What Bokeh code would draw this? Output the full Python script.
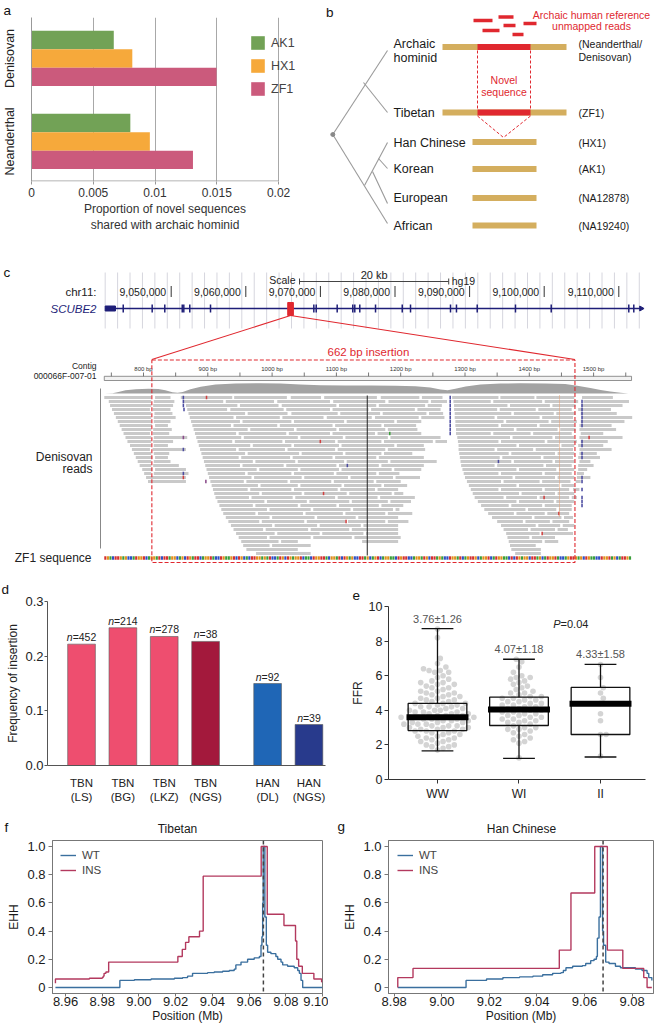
import numpy as np
from bokeh.plotting import figure
from bokeh.models import Range1d, Legend, LegendItem, Span
from bokeh.layouts import column, row
from bokeh.embed import file_html
from bokeh.resources import INLINE
from bokeh.core.properties import value

FONT = "Liberation Sans"

# ------------------------------------------------------------------ data
# panel a
a_groups = ["Denisovan", "Neanderthal"]
a_group_pos = [1, 0]
a_series = ["AK1", "HX1", "ZF1"]
a_AK1 = [0.00666, 0.00800]
a_HX1 = [0.00816, 0.00958]
a_ZF1 = [0.01498, 0.01307]
a_colors = ["#72A256", "#F6A93B", "#CB5A7C"]
a_xticks = [0, 0.005, 0.01, 0.015, 0.02]
a_xtick_labels = ["0", "0.005", "0.01", "0.015", "0.02"]

# panel b (schematic, drawn in its own pixel-like coordinates)
b_lineages = ["Archaic\nhominid", "Tibetan", "Han Chinese", "Korean", "European", "African"]
b_samples = ["(Neanderthal/\nDenisovan)", "(ZF1)", "(HX1)", "(AK1)", "(NA12878)", "(NA19240)"]
b_row_y = [46.5, 112, 141.5, 168.5, 197.5, 225]
b_label_y = [50, 112, 142, 168, 197, 225]
b_long_bar = [True, True, False, False, False, False]
b_tree = [(332.3, 134, 387, 50), (363, 82, 387, 112), (332.3, 134, 387, 223),
          (364, 185, 387, 142), (372, 171, 387, 203), (378, 158, 387, 168)]
b_unmapped = [(473, 492, 20), (498, 513, 16.5), (482, 499, 30), (503, 515, 25), (523, 536, 23), (512, 523, 34)]

# panel c
c_chr_ticks = [9050000, 9060000, 9070000, 9080000, 9090000, 9100000, 9110000]
c_gene = (9041150, 9113000)
c_utr = (9041150, 9042530)
c_exons = [9043570, 9047450, 9049140, 9051480, 9051690, 9052490, 9055270, 9069120, 9069440,
           9072250, 9074340, 9074610, 9075280, 9077390, 9080970, 9082080, 9087440, 9088240,
           9091020, 9096150, 9100940, 9111340, 9112010]
c_ins_chr = 9066000
c_scale_start = 9067200
c_scale_len = 20000
c_ins_bp = (813, 1471)
c_ins_len = 662
c_bp_ticks = [800, 900, 1000, 1100, 1200, 1300, 1400, 1500]
c_contig = (739, 1559)
c_cov_bp = [740, 752, 761, 772, 788, 808, 823, 834, 845, 853, 861, 873, 889, 912, 943, 982, 1013,
            1044, 1075, 1114, 1153, 1192, 1223, 1246, 1262, 1273, 1285, 1301, 1324, 1355, 1386,
            1425, 1456, 1477, 1495, 1511, 1526, 1542, 1554]
c_cov_depth = [0, 1, 6, 12, 16, 18, 17, 12, 5, 3, 6, 16, 25, 33, 37, 38, 37, 33, 31, 30, 30, 29,
               27, 22, 15, 12, 18, 26, 33, 37, 38, 37, 35, 28, 20, 13, 7, 3, 0]
c_reads = [
    [[739,812],[818,842],[858,938],[941,1023],[1029,1076],[1081,1163],[1169,1229],[1233,1265],[1280,1352],[1355,1408],[1411,1470],[1482,1530]],
    [[746,812],[816,848],[862,924],[928,1003],[1008,1090],[1095,1176],[1181,1243],[1247,1272],[1282,1340],[1344,1420],[1424,1476],[1484,1555]],
    [[748,812],[815,846],[866,946],[950,1010],[1015,1100],[1104,1162],[1166,1238],[1242,1264],[1283,1366],[1370,1432],[1436,1472],[1481,1545]],
    [[751,810],[814,842],[868,930],[935,1018],[1022,1090],[1094,1150],[1154,1222],[1226,1262],[1283,1350],[1354,1410],[1414,1466],[1476,1527]],
    [[754,812],[817,845],[870,958],[962,1024],[1030,1102],[1106,1168],[1172,1240],[1244,1266],[1284,1372],[1376,1438],[1442,1472],[1480,1536]],
    [[757,812],[816,850],[872,940],[944,1012],[1016,1080],[1085,1155],[1160,1228],[1232,1268],[1284,1346],[1350,1416],[1420,1468],[1482,1560]],
    [[760,812],[816,842],[874,950],[954,1030],[1034,1112],[1116,1190],[1194,1232],[1285,1360],[1364,1430],[1434,1474],[1480,1548]],
    [[763,813],[818,838],[876,936],[940,1008],[1012,1094],[1098,1170],[1174,1224],[1285,1352],[1356,1412],[1416,1470],[1478,1528]],
    [[766,812],[815,844],[878,962],[966,1034],[1038,1100],[1104,1176],[1180,1226],[1286,1376],[1380,1444],[1448,1472],[1478,1535]],
    [[769,810],[814,840],[880,944],[948,1022],[1026,1090],[1094,1160],[1164,1232],[1286,1340],[1344,1402],[1406,1466],[1480,1515]],
    [[772,812],[816,868],[882,952],[956,1040],[1044,1110],[1114,1180],[1184,1262],[1288,1370],[1374,1436],[1440,1470],[1478,1545]],
    [[775,812],[815,846],[884,938],[942,1016],[1020,1098],[1102,1170],[1174,1250],[1254,1272],[1289,1352],[1356,1424],[1428,1474],[1480,1522]],
    [[779,812],[816,838],[886,966],[970,1030],[1034,1104],[1108,1190],[1194,1236],[1290,1380],[1384,1446],[1450,1470],[1476,1515]],
    [[782,810],[814,866],[888,944],[948,1020],[1024,1098],[1102,1176],[1180,1238],[1290,1346],[1350,1406],[1410,1468],[1478,1528]],
    [[785,812],[816,840],[890,958],[962,1042],[1046,1110],[1114,1170],[1174,1218],[1291,1368],[1372,1440],[1444,1470],[1478,1505]],
    [[788,814],[818,838],[892,948],[952,1028],[1032,1094],[1098,1162],[1166,1236],[1292,1354],[1358,1418],[1422,1468],[1476,1510]],
    [[791,812],[816,842],[894,970],[974,1036],[1040,1112],[1116,1180],[1184,1256],[1293,1372],[1376,1436],[1440,1470],[1478,1495]],
    [[794,812],[815,855],[896,950],[954,1018],[1022,1100],[1104,1166],[1170,1236],[1294,1346],[1350,1422],[1426,1466],[1476,1500]],
    [[798,814],[818,866],[898,976],[980,1040],[1044,1104],[1108,1186],[1190,1232],[1296,1380],[1384,1442],[1446,1470],[1476,1490]],
    [[801,812],[816,870],[900,958],[962,1030],[1034,1096],[1100,1162],[1166,1198],[1298,1352],[1356,1420],[1424,1466],[1474,1485]],
    [[804,866],[902,968],[972,1046],[1050,1118],[1122,1188],[1192,1230],[1300,1374],[1378,1440],[1444,1470],[1474,1495]],
    [[807,866],[904,956],[960,1024],[1028,1092],[1096,1158],[1162,1200],[1303,1356],[1360,1416],[1420,1464],[1472,1480]],
    [[906,978],[982,1040],[1044,1108],[1112,1170],[1174,1210],[1306,1380],[1384,1446],[1450,1470]],
    [[908,962],[966,1030],[1034,1102],[1106,1160],[1164,1196],[1309,1352],[1356,1420],[1424,1462],[1468,1478]],
    [[910,980],[984,1046],[1050,1116],[1120,1186],[1190,1204],[1312,1384],[1388,1440],[1444,1470]],
    [[912,964],[968,1032],[1036,1098],[1102,1164],[1168,1222],[1315,1360],[1364,1412],[1416,1462],[1466,1474]],
    [[915,988],[992,1054],[1058,1120],[1124,1180],[1184,1216],[1320,1380],[1384,1438],[1442,1470]],
    [[918,970],[974,1040],[1044,1100],[1104,1166],[1170,1204],[1325,1368],[1372,1420],[1424,1466]],
    [[921,992],[996,1060],[1064,1122],[1126,1188],[1192,1198],[1330,1394],[1398,1442],[1446,1466]],
    [[924,974],[978,1048],[1052,1110],[1114,1176],[1180,1218],[1336,1376],[1380,1424],[1428,1462]],
    [[928,996],[1000,1066],[1070,1130],[1134,1196],[1342,1404],[1408,1450],[1454,1468]],
    [[932,980],[984,1050],[1054,1114],[1118,1176],[1180,1212],[1350,1390],[1394,1432],[1436,1462]],
    [[936,1000],[1004,1070],[1074,1138],[1142,1196],[1356,1410],[1414,1448],[1452,1470]],
    [[940,986],[990,1056],[1060,1120],[1124,1196],[1360,1398],[1402,1440],[1444,1460]],
    [[944,1004],[1008,1074],[1078,1142],[1146,1196],[1364,1416],[1420,1468]],
    [[948,992],[996,1060],[1064,1124],[1128,1200],[1366,1400],[1404,1440]],
    [[952,1010],[1014,1040],[1140,1196],[1368,1420],[1424,1445]],
    [[955,996],[1000,1060],[1370,1410]],
    [[960,1040],[1372,1418]],
    [[975,1060],[1378,1418]],
]
c_marks = [(0, 862, "#4B4BA0"), (1, 862, "#4B4BA0"), (2, 862, "#4B4BA0"), (3, 863, "#4B4BA0"),
           (10, 862, "#8A4B8A"), (13, 862, "#4B4BA0"), (19, 862, "#4B4BA0"), (20, 862, "#D04040"),
           (0, 898, "#D04040"), (21, 897, "#8A4B8A"), (11, 1075, "#D04040"), (9, 1183, "#3A9E3A"),
           (17, 1117, "#4B4BA0"), (24, 1080, "#D04040"), (31, 1115, "#D04040"), (25, 1423, "#D04040"),
           (29, 1446, "#D04040"), (34, 1420, "#D04040"), (10, 1493, "#D04040"), (16, 1352, "#4B4BA0")]
c_purple_rows_1277 = list(range(0, 10))
c_purple_rows_1482 = [1, 2, 3, 4, 5, 6, 7, 11, 12, 14, 15, 20, 21, 23, 25, 26, 27]
c_seq = ("TGACTTGAGCCATGGTCAGGATCTTAGGCAGCTGATTCAGGTACCTGAAGTCTGCACTTGGAGATCCATGCTGAGGTCAACTGG"
         "TTACGGATCTGAGCCTTAGCAGTCAGGAACTGTTCCAGGATGCTTAGACCTGGATCAGTTGCAGGTCATGGAACTCTGAGGCTT"
         "AGCATGGTACCAGTTGAGCTGAACCTGGTAGCATTGACG")
c_base_colors = {"A": "#3A9E3A", "C": "#2D4FC4", "G": "#E0901E", "T": "#D43030"}

# panel d
d_labels = ["TBN\n(LS)", "TBN\n(BG)", "TBN\n(LKZ)", "TBN\n(NGS)", "HAN\n(DL)", "HAN\n(NGS)"]
d_pos = [0, 1, 2, 3, 4.5, 5.5]
d_freq = [0.222, 0.252, 0.236, 0.227, 0.150, 0.075]
d_n = [452, 214, 278, 38, 92, 39]
d_colors = ["#EE4E6F", "#EE4E6F", "#EE4E6F", "#A3193C", "#1F66B6", "#283A8C"]

# panel e
e_groups = ["WW", "WI", "II"]
e_pos = [1, 2, 3]
e_q1 = [2.83, 3.12, 2.60]
e_med = [3.60, 4.05, 4.38]
e_q3 = [4.40, 4.76, 5.32]
e_lo = [1.65, 1.22, 1.30]
e_hi = [8.72, 6.95, 6.65]
e_annot = ["3.76\u00b11.26", "4.07\u00b11.18", "4.33\u00b11.58"]
e_WW = [8.7, 8.2, 7.0, 6.7, 6.5, 6.4, 6.3, 6.3, 6.2, 6.2, 6.0, 5.9, 5.8, 5.7, 5.6, 5.6, 5.5, 5.5,
        5.4, 5.3, 5.3, 5.2, 5.1, 5.1, 5.0, 5.0, 4.9, 4.9, 4.8, 4.8, 4.7, 4.7, 4.6, 4.6, 4.5, 4.5,
        4.4, 4.4, 4.4, 4.3, 4.3, 4.2, 4.2, 4.2, 4.1, 4.1, 4.0, 4.0, 4.0, 3.9, 3.9, 3.9, 3.8, 3.8,
        3.8, 3.7, 3.7, 3.7, 3.6, 3.6, 3.6, 3.6, 3.5, 3.5, 3.5, 3.4, 3.4, 3.4, 3.3, 3.3, 3.3, 3.2,
        3.2, 3.2, 3.1, 3.1, 3.1, 3.0, 3.0, 3.0, 2.9, 2.9, 2.9, 2.8, 2.8, 2.8, 2.7, 2.7, 2.6, 2.6,
        2.5, 2.5, 2.4, 2.4, 2.3, 2.3, 2.2, 2.2, 2.1, 2.0, 2.0, 1.9, 1.9, 1.8, 1.7]
e_WI = [6.95, 6.8, 6.5, 6.2, 6.0, 5.9, 5.9, 5.8, 5.7, 5.6, 5.5, 5.4, 5.3, 5.2, 5.1, 5.0, 5.0, 4.9,
        4.8, 4.8, 4.7, 4.7, 4.6, 4.6, 4.5, 4.5, 4.4, 4.4, 4.3, 4.3, 4.2, 4.2, 4.1, 4.1, 4.0, 4.0,
        3.9, 3.9, 3.8, 3.8, 3.7, 3.7, 3.6, 3.6, 3.5, 3.5, 3.4, 3.4, 3.3, 3.3, 3.2, 3.1, 3.0, 3.0,
        2.9, 2.9, 2.8, 2.7, 2.6, 2.5, 2.4, 2.3, 2.2, 2.1, 1.25]
e_II = [6.65, 5.9, 5.3, 5.0, 4.7, 4.4, 3.8, 3.4, 2.6, 2.6, 1.35]

# panels f, g (EHH step curves: position Mb, EHH)
f_ins = [(8.9545,0.03),(8.9545,0.06),(8.973,0.065),(8.980,0.07),(8.9805,0.08),(8.981,0.10),(8.982,0.11),
         (8.9835,0.18),(9.0212,0.22),(9.0236,0.27),(9.0254,0.32),(9.0272,0.36),(9.033,0.40),(9.035,0.79),
         (9.0666,1.0),(9.0699,0.52),(9.079,0.44),(9.0853,0.33),(9.086,0.20),(9.087,0.15),(9.089,0.10),
         (9.0953,0.06),(9.0995,0.04),(9.1,0.04)]
f_wt = [(8.9545,0.0),(8.9896,0.05),(8.9975,0.055),(9.0066,0.06),(9.0193,0.065),(9.0238,0.07),(9.0265,0.08),
        (9.0292,0.10),(9.0374,0.105),(9.041,0.11),(9.0456,0.115),(9.0492,0.12),(9.0519,0.13),(9.0528,0.16),
        (9.0556,0.18),(9.0592,0.20),(9.0628,0.21),(9.0656,0.22),(9.0665,0.30),(9.067,0.36),(9.0674,0.60),
        (9.0677,1.0),(9.0686,0.50),(9.0694,0.30),(9.0701,0.25),(9.0719,0.24),(9.0746,0.22),(9.0756,0.20),
        (9.0774,0.18),(9.0783,0.16),(9.081,0.15),(9.0846,0.14),(9.0865,0.12),(9.0874,0.10),(9.0883,0.05),
        (9.0892,0.0),(9.1,0.0)]
g_ins = [(8.9815,0.0),(8.9815,0.07),(8.9879,0.135),(9.0494,0.265),(9.0543,0.67),(9.0643,1.0),(9.0696,0.265),
         (9.0761,0.135),(9.0849,0.07),(9.0863,0.0),(9.0883,0.0)]
g_wt = [(8.9815,0.0),(9.0102,0.05),(9.0188,0.06),(9.0257,0.07),(9.0327,0.075),(9.0383,0.08),(9.0424,0.09),
        (9.0466,0.10),(9.0501,0.105),(9.0511,0.12),(9.0522,0.14),(9.055,0.15),(9.0591,0.155),(9.0605,0.17),
        (9.0626,0.19),(9.064,0.20),(9.065,0.22),(9.0654,0.35),(9.0661,0.50),(9.0667,1.0),(9.0676,0.40),
        (9.068,0.30),(9.0689,0.18),(9.0703,0.17),(9.073,0.15),(9.0751,0.14),(9.0814,0.13),(9.0842,0.12),
        (9.0863,0.10),(9.087,0.07),(9.0883,0.05)]
ins_pos_mb = 9.0678
f_xticks = [8.96, 8.98, 9.00, 9.02, 9.04, 9.06, 9.08, 9.10]
g_xticks = [8.98, 9.00, 9.02, 9.04, 9.06, 9.08]
ehh_ticks = [0, 0.2, 0.4, 0.6, 0.8, 1.0]
ehh_labels = ["0", "0.2", "0.4", "0.6", "0.8", "1.0"]
WT_COLOR = "#3A6F9E"
INS_COLOR = "#B3395E"
RED = "#E0282F"
GOLD = "#D4AE5E"
W = 654  # whole layout width (placed at the page's top-left corner)


# ------------------------------------------------------------------ helpers
def fig(w, h, xr, yr, bl=0, br=0, bt=0, bb=0, axes=True):
    extra = {} if axes else dict(x_axis_location=None, y_axis_location=None)
    p = figure(width=w, height=h, x_range=xr, y_range=yr, min_border_left=bl, min_border_right=br,
               min_border_top=bt, min_border_bottom=bb, toolbar_location=None, output_backend="svg",
               outline_line_color=None, **extra)
    p.xgrid.grid_line_color = None
    p.ygrid.grid_line_color = None
    p.background_fill_color = None
    p.border_fill_color = None
    return p


def style_axis(ax, size="12px", color="#222", line="#555", lsize="12px"):
    ax.major_label_text_font = FONT
    ax.major_label_text_font_size = size
    ax.major_label_text_color = color
    ax.axis_label_text_font = FONT
    ax.axis_label_text_font_size = lsize
    ax.axis_label_text_font_style = "normal"
    ax.axis_label_text_color = color
    ax.axis_line_color = line
    ax.major_tick_line_color = line
    ax.minor_tick_line_color = None
    ax.major_tick_in = 0


def txt(p, x, y, s, size="12px", color="#222", align="left", baseline="middle", style="normal",
        rng="default", xo=0, yo=0):
    n = len(s)
    p.text(x=x, y=y, text=s, text_font=value(FONT), text_font_size=value(size), text_color=color,
           text_align=align, text_baseline=baseline, text_font_style=style, x_range_name=rng,
           x_offset=xo if not isinstance(xo, (int, float)) else [xo] * n,
           y_offset=yo if not isinstance(yo, (int, float)) else [yo] * n)


def strip(x0, x1, y0, y1):
    # a blank full-frame canvas for panel letters / titles (page pixel coordinates)
    return fig(int(x1 - x0), int(y1 - y0), Range1d(x0, x1), Range1d(y1, y0), axes=False)


LET = "13.5px"


def letter_title(p, text, offset, standoff):
    p.title.text = text
    p.title.align = "left"
    p.title.offset = offset
    p.title.standoff = standoff
    p.title.text_font = FONT
    p.title.text_font_size = LET
    p.title.text_font_style = "normal"
    p.title.text_color = "#111"


# ------------------------------------------------------------------ panel a  (page x 0..325, y 0..235)
A_XMAX = 0.02 * (298 - 30) / 248.0
pa = fig(325, 235, Range1d(0, A_XMAX), Range1d(-0.483, 1.494), bl=30, br=27, bt=13, bb=50)
letter_title(pa, "a", -28, 0)
offs = [0.222, 0.0, -0.222]
renderers = []
for k, (vals, col) in enumerate(zip([a_AK1, a_HX1, a_ZF1], a_colors)):
    r = pa.hbar(y=[g + offs[k] for g in a_group_pos], left=0, right=vals, height=0.222,
                fill_color=col, line_color=None)
    renderers.append(r)
pa.segment(x0=[0], y0=[-0.4773], x1=[a_xticks[-1]], y1=[-0.4773], line_color="#999", line_width=1)
pa.xaxis.ticker = a_xticks
pa.xaxis.major_label_overrides = {t: l for t, l in zip(a_xticks, a_xtick_labels)}
pa.xgrid.grid_line_color = "#A8A8A8"
pa.yaxis.ticker = a_group_pos
pa.yaxis.major_label_overrides = {g: n for g, n in zip(a_group_pos, a_groups)}
pa.yaxis.major_label_orientation = "vertical"
style_axis(pa.xaxis, size="12px", color="#333", line="#999")
style_axis(pa.yaxis, size="12.5px", color="#222", line="#999")
pa.xaxis.axis_line_color = None
pa.yaxis.major_tick_line_color = None
pa.yaxis.major_label_standoff = 8
pa.xaxis.major_tick_out = 3
pa.xaxis.major_label_standoff = 3
pa.xaxis.axis_label = "Proportion of novel sequences\nshared with archaic hominid"
pa.xaxis.axis_label_standoff = 2
leg = Legend(items=[LegendItem(label=s, renderers=[r]) for s, r in zip(a_series, renderers)],
             location=(218, 84), glyph_width=17, glyph_height=17, label_height=17, spacing=6,
             padding=0, margin=0, border_line_color=None, background_fill_alpha=0,
             label_text_font=FONT, label_text_font_size="12.5px", label_standoff=5)
pa.add_layout(leg)

# ------------------------------------------------------------------ panel b  (page x 325..654, y 0..235)
pb = fig(W - 325, 235, Range1d(325, W), Range1d(235, 0), axes=False)
pb.segment(x0=[t[0] for t in b_tree], y0=[t[1] for t in b_tree], x1=[t[2] for t in b_tree],
           y1=[t[3] for t in b_tree], line_color="#9A9A9A", line_width=1.1)
pb.scatter(x=[332.3], y=[134], size=4, color="#888888")
bx0 = [442 if lg else 472 for lg in b_long_bar]
bx1 = [566 if lg else 536 for lg in b_long_bar]
pb.segment(x0=bx0, y0=b_row_y, x1=bx1, y1=b_row_y, line_color=GOLD, line_width=6, line_cap="butt")
pb.segment(x0=[477, 477], y0=b_row_y[:2], x1=[530, 530], y1=b_row_y[:2], line_color=RED, line_width=6,
           line_cap="butt")
pb.segment(x0=[u[0] for u in b_unmapped], y0=[u[2] for u in b_unmapped], x1=[u[1] for u in b_unmapped],
           y1=[u[2] for u in b_unmapped], line_color=RED, line_width=3.5, line_cap="butt")
pb.segment(x0=[477, 530, 477, 530], y0=[50, 50, 115.5, 115.5], x1=[477, 530, 503, 503],
           y1=[108.5, 108.5, 137, 137], line_color=RED, line_width=1, line_dash="3 2")
for lab, y in zip(b_lineages, b_label_y):
    parts = lab.split("\n")
    ys = [y] if len(parts) == 1 else [y - 7, y + 7]
    txt(pb, [393] * len(parts), ys, parts, size="12.5px", color="#1a1a1a")
for lab, y in zip(b_samples, b_label_y):
    parts = lab.split("\n")
    ys = [y] if len(parts) == 1 else [y - 7, y + 6]
    txt(pb, [578] * len(parts), ys, parts, size="10.5px", color="#1a1a1a")
txt(pb, [591, 591], [14, 25.5], ["Archaic human reference", "unmapped reads"], size="10.5px",
    color=RED, align="center")
txt(pb, [503.5, 503.5], [79, 91], ["Novel", "sequence"], size="10.5px", color=RED, align="center")
txt(pb, [325.5], [11.5], ["b"], size=LET, color="#111", baseline="alphabetic")

# ------------------------------------------------------------------ panel c  (page y 235..572)
BP0 = 800 + (0 - 143) / 0.643
BP1 = 800 + (W - 143) / 0.643
CHR0 = 9050000 + (0 - 170.7) / 0.00746
CHR1 = 9050000 + (W - 170.7) / 0.00746
pc = fig(W, 337, Range1d(BP0, BP1), Range1d(572, 235), axes=False)
pc.extra_x_ranges = {"chr": Range1d(CHR0, CHR1), "px": Range1d(0, W)}


def bp2px(b):
    return (b - BP0) / (BP1 - BP0) * W


def chr2px(c):
    return (c - CHR0) / (CHR1 - CHR0) * W


guides = list(range(9041150, 9114000, 1665))
pc.segment(x0=guides, y0=272, x1=guides, y1=328, x_range_name="chr", line_color="#D6D6DE", line_width=1)
pc.segment(x0=c_chr_ticks, y0=285.5, x1=c_chr_ticks, y1=296.5, x_range_name="chr", line_color="#333",
           line_width=1)
txt(pc, c_chr_ticks, [291] * len(c_chr_ticks), [f"{t:,}" for t in c_chr_ticks], size="10.5px",
    color="#222", align="right", rng="chr", xo=-5)
txt(pc, [96], [291], ["chr11:"], size="11.5px", color="#222", align="right", rng="px")
NAVY = "#1E1E78"
txt(pc, [96], [308.5], ["SCUBE2"], size="11.5px", color=NAVY, align="right", style="italic", rng="px")
pc.segment(x0=[c_gene[0]], y0=[308], x1=[c_gene[1]], y1=[308], x_range_name="chr", line_color=NAVY,
           line_width=1.5)
pc.quad(left=[c_utr[0]], right=[c_utr[1]], top=[305.5], bottom=[310.5], x_range_name="chr", color=NAVY)
pc.segment(x0=c_exons, y0=304, x1=c_exons, y1=312, x_range_name="chr", line_color=NAVY, line_width=1.5)
pc.scatter(x=[c_gene[1]], y=[308], marker="triangle", angle=-np.pi / 2, size=5, color=NAVY,
           x_range_name="chr")
pc.quad(left=[c_ins_chr - 380], right=[c_ins_chr + 380], top=[302], bottom=[315], x_range_name="chr",
        color=RED)
# scale bar
sb = [c_scale_start, c_scale_start + c_scale_len]
pc.segment(x0=[sb[0]], y0=[281], x1=[sb[1]], y1=[281], x_range_name="chr", line_color="#444", line_width=1)
pc.segment(x0=sb, y0=278, x1=sb, y1=284, x_range_name="chr", line_color="#444", line_width=1)
txt(pc, [sb[0]], [279.5], ["Scale"], size="10.5px", color="#222", align="right", rng="chr", xo=-4)
txt(pc, [(sb[0] + sb[1]) / 2], [274.5], ["20 kb"], size="11px", color="#222", align="center", rng="chr")
txt(pc, [sb[1]], [280], ["hg19"], size="10.5px", color="#222", align="left", rng="chr", xo=3)
# connectors
ipx = chr2px(c_ins_chr)
pc.segment(x0=[ipx, ipx], y0=[315, 315], x1=[bp2px(c_ins_bp[0]), bp2px(c_ins_bp[1])], y1=[359, 359],
           x_range_name="px", line_color=RED, line_width=1.1)
txt(pc, [(c_ins_bp[0] + c_ins_bp[1]) / 2], [351.5], [f"{c_ins_len} bp insertion"],
    size="11.5px", color=RED, align="center", xo=5)
# contig ruler
txt(pc, [96, 96], [365.5, 375.5], ["Contig", "000066F-007-01"], size="8.5px", color="#222", align="right",
    rng="px")
pc.quad(left=[c_contig[0]], right=[c_contig[1]], top=[375.8], bottom=[380], fill_color="#F2F2F2",
        line_color="#777", line_width=0.8)
minor = list(range(750, 1560, 50))
pc.segment(x0=minor, y0=372, x1=minor, y1=375.8, line_color="#555", line_width=0.8)
txt(pc, c_bp_ticks, [368] * len(c_bp_ticks), [f"{t} bp" for t in c_bp_ticks], size="6px", color="#333",
    align="center")
# coverage
pc.varea(x=c_cov_bp, y1=[393] * len(c_cov_bp), y2=[393 - d * 0.27 for d in c_cov_depth], fill_color="#A3A3A3")
pc.segment(x0=[100], y0=[388], x1=[100], y1=[548], x_range_name="px", line_color="#888", line_width=1)
txt(pc, [92, 92], [456, 468.5], ["Denisovan", "reads"], size="12px", color="#222", align="right", rng="px")
# reads
rl, rr, rt, rb = [], [], [], []
for i, rowreads in enumerate(c_reads):
    y = 397 + 4 * i
    for s, e in rowreads:
        rl.append(s); rr.append(e); rt.append(y - 1.5); rb.append(y + 1.5)
pc.quad(left=rl, right=rr, top=rt, bottom=rb, fill_color="#C9C9C9", line_color=None)
# marks
ml, mr, mt, mb, mc = [], [], [], [], []
for rw, b, colr in c_marks + [(r_, 1277, "#4B4BA0") for r_ in c_purple_rows_1277] + \
        [(r_, 1482, "#4B4BA0") for r_ in c_purple_rows_1482]:
    y = 397 + 4 * rw
    ml.append(b - 1.2); mr.append(b + 1.2); mt.append(y - 1.7); mb.append(y + 1.7); mc.append(colr)
pc.quad(left=ml, right=mr, top=mt, bottom=mb, fill_color=mc, line_color=None)
pc.segment(x0=[1148], y0=[395], x1=[1148], y1=[555], line_color="#222", line_width=1)
pc.segment(x0=[1447], y0=[395], x1=[1447], y1=[517], line_color="#E8A070", line_width=1, line_dash="1 1")
# sequence
txt(pc, [91], [557], ["ZF1 sequence"], size="12px", color="#222", align="right", rng="px")
sl, sr, scol = [], [], []
for k, base in enumerate(c_seq):
    b0 = c_contig[0] + 4 * k
    if b0 + 3.3 > c_contig[1]:
        break
    sl.append(b0); sr.append(b0 + 3.3); scol.append(c_base_colors[base])
pc.quad(left=sl, right=sr, top=555.8, bottom=559.2, fill_color=scol, line_color=None)
pc.quad(left=[c_ins_bp[0]], right=[c_ins_bp[1]], top=[359.5], bottom=[562], fill_alpha=0, line_color=RED,
        line_dash="4 2", line_width=1.1)
txt(pc, [3], [272], ["c"], size=LET, color="#111", baseline="alphabetic", rng="px")

# ------------------------------------------------------------------ panels d, e  (page y 572..805)
pd = fig(328, 233, Range1d(-0.823, 5.9), Range1d(0, 0.3), bl=47, br=3, bt=29, bb=37)
letter_title(pd, "d", -46, 9)
pd.vbar(x=d_pos, top=d_freq, width=0.67, fill_color=d_colors, line_color="#5A5A5A", line_width=0.6)
fs = 10.5
starts = [-(0.556 + 0.584 + 0.556 * len(str(n))) * fs / 2 for n in d_n]
txt(pd, d_pos, d_freq, ["n"] * len(d_n), size=f"{fs}px", color="#222", align="left", baseline="bottom",
    style="italic", xo=starts, yo=-1)
txt(pd, d_pos, d_freq, [f"={n}" for n in d_n], size=f"{fs}px", color="#222", align="left",
    baseline="bottom", xo=[s + 0.556 * fs for s in starts], yo=-1)
pd.xaxis.ticker = d_pos
pd.xaxis.major_label_overrides = {p_: l for p_, l in zip(d_pos, d_labels)}
pd.yaxis.ticker = [0, 0.1, 0.2, 0.3]
pd.yaxis.major_label_overrides = {0: "0.0", 0.1: "0.1", 0.2: "0.2", 0.3: "0.3"}
style_axis(pd.xaxis, size="11.5px", color="#222", line="#555")
style_axis(pd.yaxis, size="13px", color="#222", line="#555")
pd.xaxis.major_tick_line_color = None
pd.xaxis.major_label_standoff = 5
pd.yaxis.major_tick_out = 3
pd.yaxis.major_label_standoff = 1
pd.yaxis.axis_label = "Frequency of insertion"
pd.yaxis.axis_label_standoff = 2

pe = fig(W - 328, 233, Range1d(0.399, 3.552), Range1d(0, 10), bl=60, br=W - 645, bt=34, bb=26)
letter_title(pe, "e", -36, 14)


def swarm(vals, center, ppu_x=81.5, ppu_y=17.3, d=5.6):
    placed, xs, ys = [], [], []
    cand = [0.0]
    for j in range(1, 40):
        cand += [j * d * 0.5, -j * d * 0.5]
    for v in sorted(vals):
        yv = v * ppu_y
        for off in cand:
            if all((off - px) ** 2 + (yv - py) ** 2 >= d * d for px, py in placed):
                break
        placed.append((off, yv))
        xs.append(center + off / ppu_x)
        ys.append(v)
    return xs, ys


for vals, c in zip([e_WW, e_WI, e_II], e_pos):
    xs, ys = swarm(vals, c)
    pe.scatter(x=xs, y=ys, size=5.6, fill_color="#D4D4D4", line_color=None)
pe.segment(x0=e_pos, y0=e_lo, x1=e_pos, y1=e_q1, line_color="#111", line_width=1.3)
pe.segment(x0=e_pos, y0=e_q3, x1=e_pos, y1=e_hi, line_color="#111", line_width=1.3)
pe.segment(x0=[p_ - 0.195 for p_ in e_pos], y0=e_lo, x1=[p_ + 0.195 for p_ in e_pos], y1=e_lo,
           line_color="#111", line_width=1.3)
pe.segment(x0=[p_ - 0.195 for p_ in e_pos], y0=e_hi, x1=[p_ + 0.195 for p_ in e_pos], y1=e_hi,
           line_color="#111", line_width=1.3)
pe.quad(left=[p_ - 0.36 for p_ in e_pos], right=[p_ + 0.36 for p_ in e_pos], bottom=e_q1, top=e_q3,
        fill_alpha=0, line_color="#111", line_width=1.3)
pe.rect(x=e_pos, y=e_med, width=0.76, height=6, height_units="screen", fill_color="#000", line_color=None)
txt(pe, e_pos, e_hi, e_annot, size="11px", color="#555", align="center", yo=-10)
txt(pe, [2.51], [9.0], ["P"], size="11px", color="#222", align="right", style="italic")
txt(pe, [2.51], [9.0], ["=0.04"], size="11px", color="#222", align="left")
pe.xaxis.ticker = e_pos
pe.xaxis.major_label_overrides = {p_: g for p_, g in zip(e_pos, e_groups)}
pe.yaxis.ticker = [0, 2, 4, 6, 8, 10]
style_axis(pe.xaxis, size="12px", color="#222", line="#333")
style_axis(pe.yaxis, size="12.5px", color="#222", line="#333")
pe.xaxis.major_tick_out = 4
pe.xaxis.major_label_standoff = 3
pe.yaxis.major_tick_out = 4
pe.yaxis.major_label_standoff = 2
pe.yaxis.axis_label = "FFR"
pe.yaxis.axis_label_standoff = 1

# ------------------------------------------------------------------ panels f, g  (page y 805..1027)
sfg = strip(0, W, 805, 835)
txt(sfg, [4, 337], [827, 826], ["f", "g"], size=LET, color="#111", baseline="alphabetic")
txt(sfg, [177, 521], [828, 828], ["Tibetan", "Han Chinese"], size="12px", color="#1a1a1a", align="center")


def ehh_panel(w, xr, bl, br, ins, wt, xticks, leg_x):
    p = fig(w, 192, xr, Range1d(-0.043, 1.043), bl=bl, br=br, bt=5, bb=34)
    p.outline_line_color = "#777"
    p.outline_line_width = 1
    r_wt = p.step(x=[a for a, b in wt], y=[b for a, b in wt], mode="after", line_color=WT_COLOR,
                  line_width=1.4)
    r_ins = p.step(x=[a for a, b in ins], y=[b for a, b in ins], mode="after", line_color=INS_COLOR,
                   line_width=1.4)
    p.add_layout(Span(location=ins_pos_mb, dimension="height", line_color="#444", line_width=1.5,
                      line_dash="4 3"))
    p.xaxis.ticker = xticks
    p.xaxis.major_label_overrides = {t: f"{t:.2f}" for t in xticks}
    p.yaxis.ticker = ehh_ticks
    p.yaxis.major_label_overrides = {t: l for t, l in zip(ehh_ticks, ehh_labels)}
    style_axis(p.xaxis, size="13px", color="#1a1a1a", line="#777", lsize="12px")
    style_axis(p.yaxis, size="13px", color="#1a1a1a", line="#777", lsize="12px")
    p.xaxis.major_tick_out = 3
    p.xaxis.major_label_standoff = 0
    p.xaxis.axis_label = "Position (Mb)"
    p.xaxis.axis_label_standoff = 0
    p.yaxis.major_tick_out = 4
    p.yaxis.major_label_standoff = 3
    p.yaxis.axis_label = "EHH"
    p.yaxis.axis_label_standoff = 3
    lg = Legend(items=[LegendItem(label="WT", renderers=[r_wt]), LegendItem(label="INS", renderers=[r_ins])],
                location=(leg_x, 116), glyph_width=16, glyph_height=14, label_height=14, spacing=1,
                padding=0, margin=0, border_line_color=None, background_fill_alpha=0,
                label_text_font=FONT, label_text_font_size="11.5px", label_standoff=6)
    p.add_layout(lg)
    return p


pf = ehh_panel(328, Range1d(8.9529, 9.10), 52, 6, f_ins, f_wt, f_xticks, 8)
pg = ehh_panel(W - 328, Range1d(8.9776, 9.089), 60, 1, g_ins, g_wt, g_xticks, 9)

# each figure is wrapped in its own column so that Bokeh does not align frames across a row
layout = column(row(column(pa), column(pb)), pc,
                row(column(pd), column(pe)),
                column(sfg, row(column(pf), column(pg))),
                styles={"position": "absolute", "left": "0px", "top": "0px"})
open("out.html", "w").write(file_html(layout, INLINE))
